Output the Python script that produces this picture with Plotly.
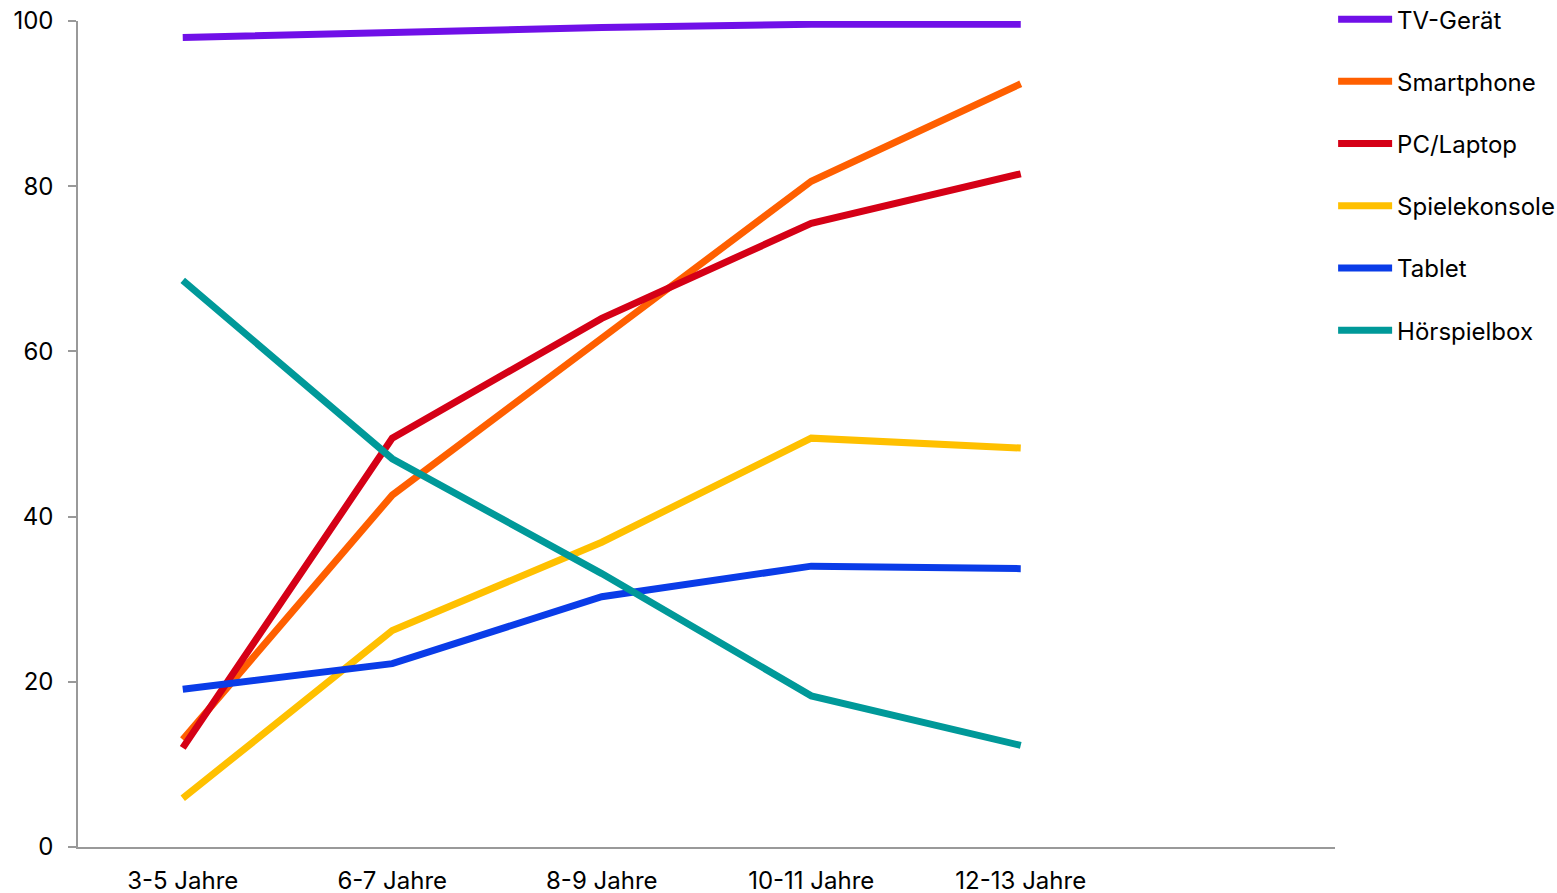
import plotly.graph_objects as go

categories = ["3-5 Jahre", "6-7 Jahre", "8-9 Jahre", "10-11 Jahre", "12-13 Jahre"]
series_names = ["TV-Gerät", "Smartphone", "PC/Laptop", "Spielekonsole", "Tablet", "Hörspielbox"]
tv = [98.0, 98.7, 99.2, 99.6, 99.6]
smartphone = [13.0, 42.6, 61.6, 80.6, 92.4]
pc = [12.0, 49.5, 64.0, 75.5, 81.5]
konsole = [5.9, 26.2, 36.9, 49.5, 48.3]
tablet = [19.1, 22.2, 30.3, 34.0, 33.7]
hoerspiel = [68.6, 47.0, 33.1, 18.3, 12.3]
values = [tv, smartphone, pc, konsole, tablet, hoerspiel]
colors = ["#7010E8", "#FF5F00", "#D50016", "#FFC000", "#0A3CE8", "#009999"]

FONT = "Inter"

fig = go.Figure()
for name, vals, col in zip(series_names, values, colors):
    fig.add_trace(go.Scatter(
        x=categories, y=vals, name=name, mode="lines",
        line=dict(color=col, width=7), legendgroup=name,
    ))

fig.update_layout(
    width=1557, height=893,
    margin=dict(l=78, r=222, t=21, b=46, autoexpand=False),
    paper_bgcolor="white", plot_bgcolor="white",
    font=dict(family=FONT, size=24, color="#000000"),
    showlegend=True,
    legend=dict(
        x=0.9985, xanchor="left", yref="paper", y=1.029, yanchor="top",
        font=dict(family=FONT, size=24, color="#000000"),
        itemwidth=54, tracegroupgap=28, bgcolor="rgba(0,0,0,0)",
    ),
    xaxis=dict(
        type="category", range=[-0.5, 5.5],
        showgrid=False, showline=True, linecolor="#999999", linewidth=1.5,
        ticks="", tickfont=dict(family=FONT, size=24), zeroline=False,
        ticklabelstandoff=11,
    ),
    yaxis=dict(
        range=[0, 100], tickvals=[0, 20, 40, 60, 80, 100],
        showgrid=False, showline=True, linecolor="#999999", linewidth=1.5,
        ticks="outside", ticklen=8, tickcolor="#999999", tickwidth=1.5,
        tickfont=dict(family=FONT, size=24), zeroline=False,
        ticklabelstandoff=10,
    ),
)

fig.write_html("out.html")
